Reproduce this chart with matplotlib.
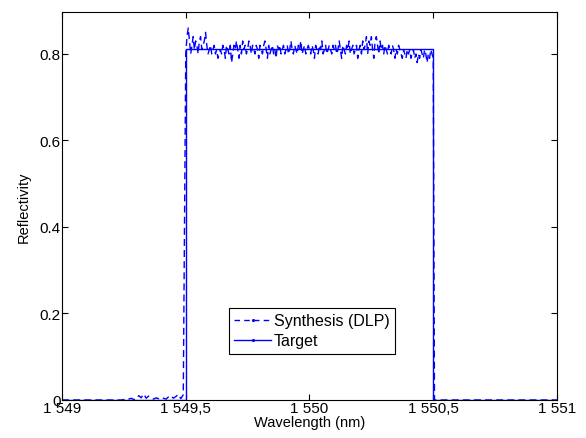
"""Reflectividad sintetizada (DLP) frente al objetivo rectangular."""

import matplotlib

matplotlib.use("Agg")
import matplotlib.pyplot as plt
import numpy as np
from matplotlib.lines import Line2D
from matplotlib.ticker import FixedLocator, FixedFormatter

plt.rcParams["font.family"] = ["Liberation Sans", "DejaVu Sans"]

# Objetivo: banda de paso rectangular.
target_wl = [1549.0, 1549.5, 1549.5, 1550.5, 1550.5, 1551.0]
target_r = [0.0, 0.0, 0.812, 0.812, 0.0, 0.0]

# Sintesis, banda de rechazo izquierda (paso 0.01 nm, 1549.00 .. 1549.49).
stop_left_r = [
    0.000, 0.000, 0.000, 0.000, 0.000, 0.000, 0.000, 0.000, 0.000, 0.000,
    0.000, 0.000, 0.000, 0.000, 0.000, 0.000, 0.000, 0.000, 0.000, 0.000,
    0.000, 0.000, 0.000, 0.000, 0.000, 0.001, 0.000, 0.002, 0.004, 0.001,
    0.003, 0.010, 0.005, 0.014, 0.004, 0.009, 0.006, 0.002, 0.005, 0.003,
    0.006, 0.004, 0.002, 0.007, 0.010, 0.004, 0.008, 0.013, 0.003, 0.012,
]

# Sintesis, banda de paso (paso 0.005 nm, 1549.500 .. 1550.500).
pass_r = [
    0.80, 0.84, 0.86, 0.83, 0.80, 0.82, 0.84, 0.81, 0.83, 0.82, 0.80,
    0.83, 0.84, 0.81, 0.82, 0.83, 0.85, 0.82, 0.80, 0.81, 0.82,
    0.80, 0.81, 0.82, 0.80, 0.81, 0.79, 0.80, 0.81, 0.80, 0.82,
    0.81, 0.79, 0.82, 0.81, 0.80, 0.82, 0.78, 0.80, 0.82, 0.81,
    0.83, 0.81, 0.79, 0.82, 0.80, 0.83, 0.81, 0.82, 0.80, 0.81,
    0.83, 0.82, 0.80, 0.82, 0.81, 0.80, 0.82, 0.81, 0.79, 0.82,
    0.81, 0.80, 0.82, 0.83, 0.81, 0.79, 0.82, 0.80, 0.81, 0.82,
    0.80, 0.81, 0.79, 0.82, 0.81, 0.82, 0.80, 0.81, 0.82, 0.80,
    0.81, 0.82, 0.80, 0.81, 0.83, 0.81, 0.80, 0.82, 0.81, 0.80,
    0.82, 0.81, 0.83, 0.80, 0.81, 0.82, 0.80, 0.81, 0.82, 0.81,
    0.80, 0.82, 0.81, 0.79, 0.82, 0.81, 0.80, 0.82, 0.81, 0.83,
    0.80, 0.81, 0.82, 0.80, 0.81, 0.82, 0.81, 0.80, 0.82, 0.81,
    0.82, 0.80, 0.81, 0.83, 0.81, 0.79, 0.82, 0.81, 0.80, 0.82,
    0.81, 0.83, 0.80, 0.81, 0.82, 0.80, 0.81, 0.82, 0.79, 0.81,
    0.82, 0.80, 0.83, 0.81, 0.82, 0.84, 0.80, 0.83, 0.82, 0.84,
    0.81, 0.79, 0.83, 0.84, 0.82, 0.80, 0.83, 0.81, 0.82, 0.80,
    0.82, 0.81, 0.80, 0.82, 0.81, 0.80, 0.82, 0.81, 0.79, 0.81,
    0.80, 0.82, 0.81, 0.80, 0.79, 0.81, 0.80, 0.79, 0.81, 0.80,
    0.81, 0.79, 0.80, 0.81, 0.79, 0.80, 0.78, 0.80, 0.79, 0.81,
    0.80, 0.79, 0.81, 0.80, 0.78, 0.80, 0.79, 0.81, 0.80, 0.79,
]

# Sintesis, banda de rechazo derecha (1550.505 .. 1551.0).
stop_right_wl = [1550.505, 1551.0]
stop_right_r = [0.0, 0.0]

x_ticks = [1549.0, 1549.5, 1550.0, 1550.5, 1551.0]
x_labels = ["1 549", "1 549,5", "1 550", "1 550,5", "1 551"]
y_ticks = [0.0, 0.2, 0.4, 0.6, 0.8]
y_labels = ["0", "0.2", "0.4", "0.6", "0.8"]

stop_left_wl = np.linspace(1549.0, 1549.49, len(stop_left_r))
pass_wl = np.linspace(1549.5, 1550.5, len(pass_r))
synth_wl = np.concatenate([stop_left_wl, pass_wl, stop_right_wl])
synth_r = np.concatenate([stop_left_r, pass_r, stop_right_r])

fig = plt.figure(figsize=(5.86, 4.39), dpi=100)
ax = fig.add_axes([0.1058, 0.0866, 0.8447, 0.8838])

blue = (0, 0, 1)
ax.plot(synth_wl, synth_r, color=blue, lw=1.0, ls=(0, (5, 3)))
ax.plot(target_wl, target_r, color=blue, lw=1.0)

ax.set_xlim(1549.0, 1551.0)
ax.set_ylim(0.0, 0.897)
ax.xaxis.set_major_locator(FixedLocator(x_ticks))
ax.xaxis.set_major_formatter(FixedFormatter(x_labels))
ax.yaxis.set_major_locator(FixedLocator(y_ticks))
ax.yaxis.set_major_formatter(FixedFormatter(y_labels))
ax.tick_params(direction="in", top=True, right=True, length=4, width=0.8,
               labelsize=11, pad=1)
for s in ax.spines.values():
    s.set_linewidth(0.8)

ax.set_xlabel("Wavelength (nm)", fontsize=10.5, labelpad=0)
ax.set_ylabel("Reflectivity", fontsize=10.5, labelpad=6)

handles = [
    Line2D([], [], color=blue, lw=1.0, ls=(0, (4, 3)), marker=".", markersize=2.5),
    Line2D([], [], color=blue, lw=1.0, marker=".", markersize=2.5),
]
leg = ax.legend(handles, ["Synthesis (DLP)", "Target"], loc="lower left",
                bbox_to_anchor=(0.337, 0.119), fontsize=11.5, fancybox=False,
                framealpha=1, edgecolor="black", handlelength=2.3,
                handletextpad=0.15, borderpad=0.35, labelspacing=0.3,
                borderaxespad=0, numpoints=1)
leg.get_frame().set_linewidth(0.8)

fig.savefig("out.png", dpi=100)
